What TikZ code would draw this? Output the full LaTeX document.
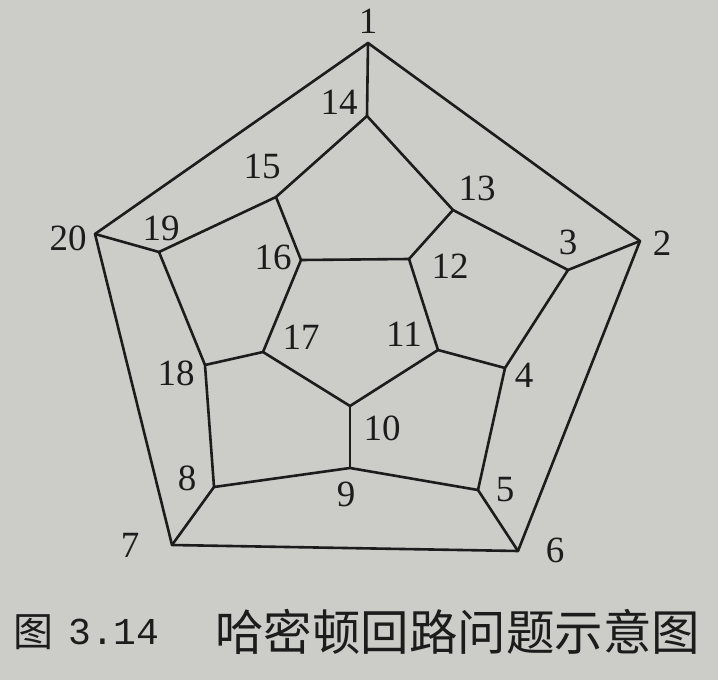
\documentclass[tikz,border=0pt]{standalone}
\usepackage{fontspec}
\setmainfont{Liberation Serif}
\newfontfamily\cjk{Noto Sans CJK SC}
\newfontfamily\capmono{Liberation Mono}
\definecolor{paper}{RGB}{204,204,201}
\definecolor{ink}{RGB}{28,28,28}
\begin{document}
\begin{tikzpicture}[x=1pt,y=-1pt,
  edge/.style={draw=ink,line width=2.6pt,line join=round,line cap=round},
  lab/.style={text=ink,inner sep=0pt,font=\fontsize{37}{39}\selectfont},
  captext/.style={text=ink,inner sep=0pt,anchor=west}]
\fill[paper] (0,0) rectangle (718,680);
\useasboundingbox (0,0) rectangle (718,680);
% vertices
\coordinate (v1) at (368,43);
\coordinate (v2) at (640,241);
\coordinate (v3) at (568,270);
\coordinate (v4) at (505,368);
\coordinate (v5) at (478,490);
\coordinate (v6) at (518,551);
\coordinate (v7) at (172,545);
\coordinate (v8) at (214,487);
\coordinate (v9) at (350,468);
\coordinate (v10) at (350,406);
\coordinate (v11) at (438,350);
\coordinate (v12) at (409,259);
\coordinate (v13) at (453,210);
\coordinate (v14) at (367,116);
\coordinate (v15) at (276,197);
\coordinate (v16) at (301,260);
\coordinate (v17) at (263,352);
\coordinate (v18) at (205,365);
\coordinate (v19) at (159,252);
\coordinate (v20) at (95,234);
% outer pentagon
\draw[edge] (v1) -- (v2) -- (v6) -- (v7) -- (v20) -- cycle;
% spokes
\draw[edge] (v1) -- (v14);
\draw[edge] (v2) -- (v3);
\draw[edge] (v6) -- (v5);
\draw[edge] (v7) -- (v8);
\draw[edge] (v20) -- (v19);
% middle decagon
\draw[edge] (v14) -- (v13) -- (v3) -- (v4) -- (v5) -- (v9) -- (v8) -- (v18) -- (v19) -- (v15) -- cycle;
% inner spokes
\draw[edge] (v13) -- (v12);
\draw[edge] (v4) -- (v11);
\draw[edge] (v9) -- (v10);
\draw[edge] (v18) -- (v17);
\draw[edge] (v15) -- (v16);
% inner pentagon
\draw[edge] (v16) -- (v12) -- (v11) -- (v10) -- (v17) -- cycle;
% labels
\node[lab] (l1) at (368,21) {1};
\node[lab] (l2) at (662,243) {2};
\node[lab] (l3) at (568,242) {3};
\node[lab] (l4) at (524,375) {4};
\node[lab] (l5) at (505,490) {5};
\node[lab] (l6) at (555,550) {6};
\node[lab] (l7) at (130,545) {7};
\node[lab] (l8) at (187,478) {8};
\node[lab] (l9) at (346,494) {9};
\node[lab] (l10) at (382,428) {10};
\node[lab] (l11) at (404,334) {11};
\node[lab] (l12) at (450,266) {12};
\node[lab] (l13) at (477,188) {13};
\node[lab] (l14) at (339,102) {14};
\node[lab] (l15) at (262,166) {15};
\node[lab] (l16) at (273,257) {16};
\node[lab] (l17) at (301,337) {17};
\node[lab] (l18) at (176,373) {18};
\node[lab] (l19) at (161,228) {19};
\node[lab] (l20) at (68,238) {20};
% caption
\node[captext,font=\cjk\fontsize{40}{44}\selectfont] (c1) at (13,632) {图};
\node[captext,font=\capmono\fontsize{38}{40}\selectfont] (c2) at (68,632) {3.14};
\node[captext,font=\cjk\fontsize{48.5}{50}\selectfont] (c3) at (215,632) {哈密顿回路问题示意图};
\end{tikzpicture}
\end{document}
